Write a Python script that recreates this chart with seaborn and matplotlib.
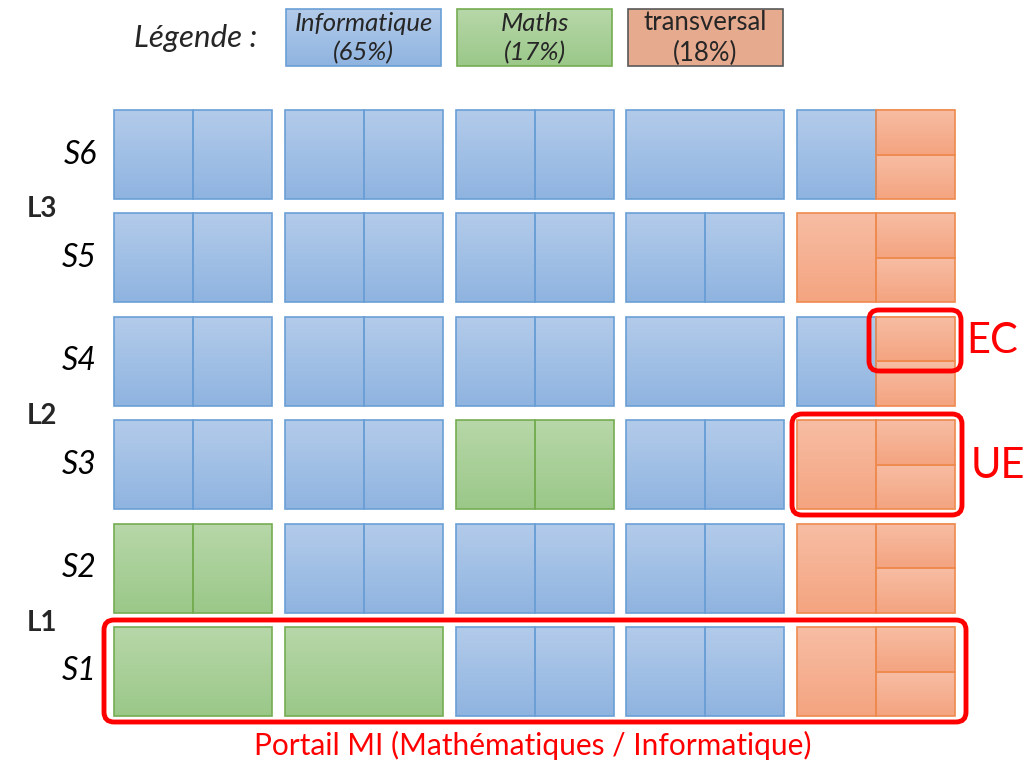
import numpy as np
import matplotlib
matplotlib.use("Agg")
import matplotlib.pyplot as plt
from matplotlib.patches import Rectangle, FancyBboxPatch
from matplotlib.colors import LinearSegmentedColormap
import seaborn as sns

# Maquette : une ligne par semestre, 5 UE par semestre.
# Chaque UE = chaine de types d'EC : I=Informatique, M=Maths, T=transversal
# 1 lettre = UE entiere, 2 lettres = deux moities, 3 lettres = gauche + droite coupee en deux
semestres = ["S6", "S5", "S4", "S3", "S2", "S1"]
ue_s6 = ["II", "II", "II", "I", "ITT"]
ue_s5 = ["II", "II", "II", "II", "TTT"]
ue_s4 = ["II", "II", "II", "I", "ITT"]
ue_s3 = ["II", "II", "MM", "II", "TTT"]
ue_s2 = ["MM", "II", "II", "II", "TTT"]
ue_s1 = ["M", "M", "II", "II", "TTT"]
maquette = [ue_s6, ue_s5, ue_s4, ue_s3, ue_s2, ue_s1]

niveaux = ["L3", "L2", "L1"]
legende_types = ["I", "M", "T"]
legende_noms = ["Informatique", "Maths", "transversal"]
legende_parts = ["(65%)", "(17%)", "(18%)"]

sns.set_style("white")
plt.rcParams["font.family"] = ["Lato", "DejaVu Sans"]

couleurs = {
    "I": ("#b3cbea", "#8fb4e0", "#6a9fd6"),
    "M": ("#b7d7a8", "#9bc889", "#75ad52"),
    "T": ("#f7bda4", "#f4a480", "#ee8a4e"),
}
cmaps = {k: LinearSegmentedColormap.from_list(k, [v[0], v[1]]) for k, v in couleurs.items()}

fig = plt.figure(figsize=(10.36, 7.61), dpi=100)
ax = fig.add_axes([0, 0, 1, 1])
grad = np.linspace(0, 1, 64).reshape(-1, 1)

# grille
x0, y0 = 114, 110
col_w, col_pas = 158, 170.8
row_h, row_pas = 89, 103.4


def dessine_ec(t, x, y, w, h):
    ax.imshow(grad, cmap=cmaps[t], extent=(x, x + w, y + h, y), origin="upper",
              aspect="auto", interpolation="bicubic", zorder=1)
    ax.add_patch(Rectangle((x, y), w, h, fill=False, ec=couleurs[t][2], lw=1.2, zorder=2))


for r, ues in enumerate(maquette):
    y = y0 + r * row_pas
    for c, code in enumerate(ues):
        x = x0 + c * col_pas
        if len(code) == 1:
            dessine_ec(code[0], x, y, col_w, row_h)
        elif len(code) == 2:
            dessine_ec(code[0], x, y, col_w / 2, row_h)
            dessine_ec(code[1], x + col_w / 2, y, col_w / 2, row_h)
        else:
            dessine_ec(code[0], x, y, col_w / 2, row_h)
            dessine_ec(code[1], x + col_w / 2, y, col_w / 2, row_h / 2)
            dessine_ec(code[2], x + col_w / 2, y + row_h / 2, col_w / 2, row_h / 2)
    ax.text(97, y + row_h / 2, semestres[r], ha="right", va="center",
            fontsize=23, style="italic", color="black")

for i, niv in enumerate(niveaux):
    y = y0 + (2 * i + 1) * row_pas - (row_pas - row_h) / 2 + 3
    ax.text(42, y, niv, ha="center", va="center", fontsize=20, weight="bold")

# legende
ax.text(196, 38, "Légende :", ha="center", va="center", fontsize=22.5, style="italic")
leg_x, leg_w, leg_pas = 286, 155, 171
for i, t in enumerate(legende_types):
    x = leg_x + i * leg_pas
    if t == "T":
        ax.add_patch(Rectangle((x, 9), leg_w, 57, fc="#e6aa8e", ec="#595959", lw=1.2, zorder=2))
        st = "normal"
    else:
        ax.imshow(grad, cmap=cmaps[t], extent=(x, x + leg_w, 66, 9), origin="upper",
                  aspect="auto", interpolation="bicubic", zorder=1)
        ax.add_patch(Rectangle((x, 9), leg_w, 57, fill=False, ec=couleurs[t][2], lw=1.2, zorder=2))
        st = "italic"
    ax.text(x + leg_w / 2, 38, legende_noms[i] + "\n" + legende_parts[i], ha="center",
            va="center", fontsize=18.5, style=st, linespacing=1.3, zorder=3)

# encadres rouges
rouge = "#ff0000"
for (bx, by, bw, bh) in [(869, 310, 92, 61), (792, 414, 170, 101), (104, 620, 862, 102)]:
    ax.add_patch(FancyBboxPatch((bx, by), bw, bh, boxstyle="round,pad=0,rounding_size=10",
                                fill=False, ec=rouge, lw=3.5, zorder=4))
ax.text(992, 341, "EC", ha="center", va="center", fontsize=30, color=rouge)
ax.text(998, 466, "UE", ha="center", va="center", fontsize=30, color=rouge)
ax.text(533, 745, "Portail MI (Mathématiques / Informatique)", ha="center", va="center",
        fontsize=21.5, color=rouge)

ax.set_xlim(0, 1036)
ax.set_ylim(761, 0)
ax.axis("off")
fig.savefig("out.png", dpi=100)
